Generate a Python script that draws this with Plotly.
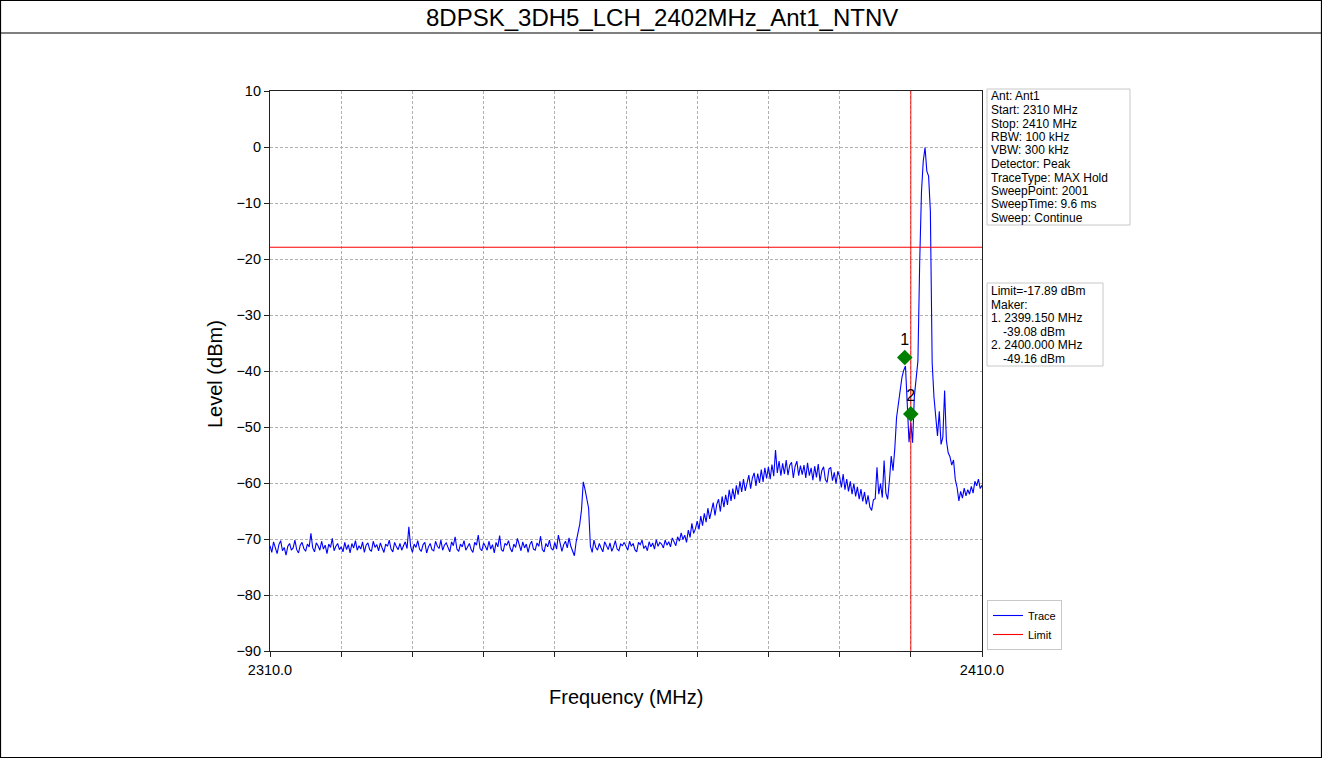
import numpy as np
import plotly.graph_objects as go

# ---------------- data ----------------
title_text = "8DPSK_3DH5_LCH_2402MHz_Ant1_NTNV"
start_mhz = 2310.0
stop_mhz = 2410.0
sweep_step_mhz = 0.25

levels_dbm = [
    # 2310-2315
    -71.2, -72.4, -70.5, -71.8, -72.6, -71.0, -70.3, -72.1, -71.5, -72.9,
    -71.3, -70.8, -72.0, -71.6, -70.2, -71.9, -72.5, -71.1, -70.6, -71.7,
    # 2315-2320
    -72.2, -70.9, -71.4, -69.0, -71.6, -72.3, -70.7, -71.2, -72.0, -70.4,
    -71.8, -71.1, -72.6, -70.9, -71.5, -69.9, -72.1, -71.3, -70.8, -71.9,
    # 2320-2325
    -71.4, -72.3, -70.6, -71.9, -71.0, -72.5, -70.8, -71.6, -70.3, -72.0,
    -71.2, -71.8, -70.5, -72.4, -71.1, -70.7, -71.9, -72.2, -70.4, -71.5,
    # 2325-2330
    -71.0, -72.1, -70.7, -71.6, -72.4, -70.9, -71.3, -70.2, -71.8, -72.3,
    -70.6, -71.4, -71.9, -70.8, -72.0, -71.2, -70.5, -71.7, -67.8, -71.3,
    # 2330-2335
    -72.4, -70.9, -71.5, -70.3, -71.8, -72.2, -71.0, -70.6, -72.5, -71.4,
    -70.8, -71.9, -72.1, -70.4, -71.3, -71.7, -70.2, -72.0, -71.1, -70.7,
    # 2335-2340
    -71.6, -72.3, -70.5, -71.2, -69.6, -71.8, -72.2, -70.9, -71.4, -70.3,
    -72.0, -71.5, -70.8, -71.9, -72.4, -70.6, -71.1, -69.3, -71.7, -72.1,
    # 2340-2345
    -70.7, -71.3, -72.0, -70.4, -71.8, -71.0, -72.5, -70.6, -71.4, -69.4,
    -71.9, -72.2, -70.8, -71.1, -70.3, -71.7, -72.3, -70.9, -71.5, -69.9,
    # 2345-2350
    -71.2, -72.1, -70.5, -71.6, -70.9, -72.4, -71.0, -70.4, -71.8, -72.0,
    -70.7, -71.3, -69.5, -71.9, -72.3, -70.8, -71.4, -70.2, -71.7, -72.0,
    # 2350-2355
    -70.6, -71.8, -69.3, -70.9, -72.2, -71.0, -70.4, -71.6, -69.8, -71.3,
    -72.1, -73.0, -70.5, -69.0, -67.4, -64.8, -59.8, -61.2, -62.6, -64.5,
    # 2355-2360
    -71.3, -72.4, -70.2, -71.5, -72.0, -70.8, -71.6, -72.3, -70.5, -71.1,
    -71.9, -70.7, -72.2, -71.4, -70.3, -71.8, -72.1, -70.9, -71.2, -70.6,
    # 2360-2365
    -71.5, -72.0, -70.4, -71.3, -70.8, -71.9, -72.3, -70.6, -71.0, -70.2,
    -71.7, -71.2, -72.1, -70.5, -71.4, -70.7, -71.8, -70.1, -71.3, -70.6,
    # 2365-2370
    -70.9, -71.6, -70.2, -71.1, -70.5, -71.4, -69.8, -70.7, -71.2, -69.6,
    -70.4, -68.9, -70.1, -69.3, -70.6, -68.4, -69.7, -67.2, -69.0, -68.2,
    # 2370-2375
    -66.8, -68.3, -65.9, -67.6, -65.4, -67.0, -64.5, -66.4, -64.6, -63.5,
    -65.8, -63.8, -62.9, -65.1, -62.4, -64.3, -62.1, -63.9, -61.2, -63.2,
    # 2375-2380
    -61.0, -62.9, -60.4, -62.1, -59.7, -61.6, -59.3, -61.4, -60.0, -58.6,
    -61.0, -59.1, -58.2, -60.5, -58.3, -60.0, -57.6, -59.8, -57.3, -59.2,
    # 2380-2385
    -57.1, -59.3, -56.7, -58.8, -54.1, -58.2, -56.1, -58.7, -56.5, -58.4,
    -55.9, -58.6, -56.8, -56.3, -59.1, -57.0, -56.1, -58.7, -56.9, -58.5,
    # 2385-2390
    -56.8, -59.1, -56.4, -58.7, -57.3, -59.5, -57.0, -59.0, -56.6, -59.7,
    -57.8, -57.1, -59.4, -59.9, -57.5, -57.2, -59.6, -58.1, -60.1, -57.9,
    # 2390-2395
    -58.8, -60.8, -58.4, -61.2, -59.3, -61.5, -59.7, -62.0, -60.1, -62.4,
    -60.7, -62.9, -61.1, -63.3, -61.6, -63.8, -62.2, -64.3, -64.9, -63.0,
    # 2395-2400
    -62.8, -57.2, -62.0, -60.1, -62.6, -56.0, -61.8, -62.9, -59.5, -55.2,
    -57.8, -53.9, -48.3, -45.6, -43.5, -41.2, -39.9, -39.1, -45.8, -52.7,
    # 2400-2405
    -49.2, -52.8, -44.5, -41.8, -38.2, -20.5, -8.0, -2.5, -0.1, -4.3,
    -5.2, -11.5, -38.5, -44.6, -47.9, -51.6, -47.2, -53.1, -51.8, -43.5,
    # 2405-2410
    -52.4, -54.6, -55.3, -56.8, -55.9, -59.4, -60.8, -63.2, -61.5, -62.7,
    -60.9, -62.3, -61.2, -62.0, -60.6, -61.8, -59.7, -60.5, -59.3, -61.0,
    -60.4,
]
freqs_mhz = start_mhz + sweep_step_mhz * np.arange(len(levels_dbm))

limit_dbm = -17.89
band_edge_mhz = 2400.0
marker_labels = ["1", "2"]
marker_freqs_mhz = [2399.150, 2400.000]
marker_levels_dbm = [-39.08, -49.16]

info_lines = [
    "Ant: Ant1",
    "Start: 2310 MHz",
    "Stop: 2410 MHz",
    "RBW: 100 kHz",
    "VBW: 300 kHz",
    "Detector: Peak",
    "TraceType: MAX Hold",
    "SweepPoint: 2001",
    "SweepTime: 9.6 ms",
    "Sweep: Continue",
]

y_ticks = [10, 0, -10, -20, -30, -40, -50, -60, -70, -80, -90]
x_ticks = [2310, 2320, 2330, 2340, 2350, 2360, 2370, 2380, 2390, 2400, 2410]
x_tick_text = ["2310.0", "", "", "", "", "", "", "", "", "", "2410.0"]

# ---------------- layout geometry (pixels) ----------------
W, H = 1322, 758
PL, PR, PT, PB = 270, 982, 91, 651
FONT = "Liberation Sans, Arial, sans-serif"
MARKER_OFFSET_DB = 1.5
BOX_FONT_PX = 12
BOX_LINE_PX = 13.5


def px(p):
    return (p - PL) / (PR - PL)


def py(q):
    return (PB - q) / (PB - PT)


fig = go.Figure()

fig.add_trace(go.Scatter(
    x=freqs_mhz, y=levels_dbm, mode="lines", name="Trace",
    line=dict(color="#0000ff", width=1.1),
))
fig.add_trace(go.Scatter(
    x=[start_mhz, stop_mhz], y=[limit_dbm, limit_dbm], mode="lines",
    name="Limit", line=dict(color="#ff0000", width=1.1),
))
fig.add_trace(go.Scatter(
    x=[band_edge_mhz, band_edge_mhz], y=[y_ticks[-1], y_ticks[0]],
    mode="lines", showlegend=False, opacity=0.85,
    line=dict(color="#ff0000", width=1.1),
))
fig.add_trace(go.Scatter(
    x=marker_freqs_mhz,
    y=[v + MARKER_OFFSET_DB for v in marker_levels_dbm],
    mode="markers+text", text=marker_labels, textposition="top center",
    textfont=dict(family=FONT, size=16, color="black"),
    marker=dict(symbol="diamond", size=12, color="#008000"),
    showlegend=False,
))

axis_common = dict(
    showline=True, linecolor="#222222", linewidth=1.2, mirror=True,
    ticks="outside", ticklen=5, tickwidth=1.2, tickcolor="#222222",
    showgrid=True, gridcolor="#b0b0b0", gridwidth=0.8, griddash="3px,2px",
    zeroline=False, tickfont=dict(family=FONT, size=14.5, color="black"),
)

fig.update_xaxes(
    range=[start_mhz, stop_mhz], tickmode="array", tickvals=x_ticks,
    ticktext=x_tick_text, **axis_common,
)
fig.update_yaxes(
    range=[y_ticks[-1], y_ticks[0]], tickmode="array", tickvals=y_ticks,
    **axis_common,
)

annotations = []
shapes = []

# axis titles
annotations.append(dict(
    x=px(626), y=py(697), xref="paper", yref="paper", text="Frequency (MHz)",
    showarrow=False, xanchor="center", yanchor="middle",
    font=dict(family=FONT, size=20, color="black"),
))
annotations.append(dict(
    x=px(215), y=py(374), xref="paper", yref="paper", text="Level (dBm)",
    showarrow=False, xanchor="center", yanchor="middle", textangle=-90,
    font=dict(family=FONT, size=20, color="black"),
))

# title band
annotations.append(dict(
    x=px(662), y=py(17), xref="paper", yref="paper", text=title_text,
    showarrow=False, xanchor="center", yanchor="middle",
    font=dict(family=FONT, size=24, color="black"),
))
shapes.append(dict(type="rect", xref="paper", yref="paper",
                   x0=px(0.5), x1=px(W - 0.5), y0=py(H - 0.5), y1=py(0.5),
                   line=dict(color="black", width=1.2)))
shapes.append(dict(type="line", xref="paper", yref="paper",
                   x0=px(0.5), x1=px(W - 0.5), y0=py(33), y1=py(33),
                   line=dict(color="black", width=1.2)))

box_font = dict(family=FONT, size=BOX_FONT_PX, color="black")

# info box
shapes.append(dict(type="rect", xref="paper", yref="paper",
                   x0=px(987), x1=px(1130), y0=py(225), y1=py(89),
                   line=dict(color="#c8c8c8", width=1), fillcolor="white", layer="below"))
for i, t in enumerate(info_lines):
    annotations.append(dict(
        x=px(990), y=py(96.5 + i * BOX_LINE_PX), xref="paper", yref="paper", text=t,
        showarrow=False, xanchor="left", yanchor="middle", font=box_font,
        borderpad=0,
    ))

# limit / marker box
marker_lines = [(990, f"Limit={limit_dbm:.2f} dBm"), (990, "Maker:")]
for lab, f, v in zip(marker_labels, marker_freqs_mhz, marker_levels_dbm):
    marker_lines.append((990, f"{lab}. {f:.3f} MHz"))
    marker_lines.append((1002, f"{v:.2f} dBm"))
shapes.append(dict(type="rect", xref="paper", yref="paper",
                   x0=px(987), x1=px(1103), y0=py(366), y1=py(283),
                   line=dict(color="#c8c8c8", width=1), fillcolor="white", layer="below"))
for i, (xx, t) in enumerate(marker_lines):
    annotations.append(dict(
        x=px(xx), y=py(291 + i * BOX_LINE_PX), xref="paper", yref="paper", text=t,
        showarrow=False, xanchor="left", yanchor="middle", font=box_font,
        borderpad=0,
    ))

fig.update_layout(
    width=W, height=H,
    margin=dict(l=PL, r=W - PR, t=PT, b=H - PB, pad=0),
    paper_bgcolor="white", plot_bgcolor="white",
    font=dict(family=FONT, color="black"),
    annotations=annotations, shapes=shapes,
    legend=dict(
        x=px(987), y=py(650), xanchor="left", yanchor="bottom",
        bordercolor="#c8c8c8", borderwidth=1, bgcolor="white",
        font=dict(family=FONT, size=11, color="black"),
        itemwidth=30, tracegroupgap=0,
    ),
)

fig.write_html(
    "out.html",
    config={"displayModeBar": False},
    post_script="document.body.style.margin='0';document.body.style.padding='0';",
)
